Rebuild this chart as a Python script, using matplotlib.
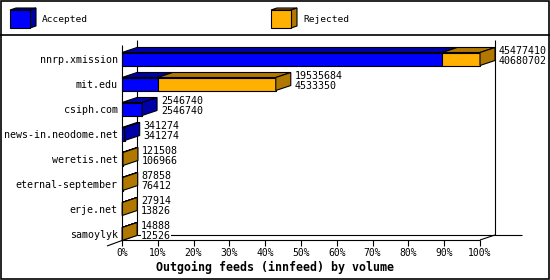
import numpy as np
import matplotlib
matplotlib.use("Agg")
import matplotlib.pyplot as plt
from matplotlib.patches import Polygon, Rectangle
from matplotlib import transforms

hosts = ["nnrp.xmission", "mit.edu", "csiph.com", "news-in.neodome.net",
         "weretis.net", "eternal-september", "erje.net", "samoylyk"]
total = [45477410, 19535684, 2546740, 341274, 121508, 87858, 27914, 14888]
accepted = [40680702, 4533350, 2546740, 341274, 106966, 76412, 13826, 12526]
xticks = list(range(0, 101, 10))
title = "Outgoing feeds (innfeed) by volume"

BLUE, DBLUE = "#0000ff", "#0000a8"
ORANGE, DORANGE = "#ffb000", "#b07800"
LW = 0.8

plt.rcParams['font.family'] = ['DejaVu Sans Mono', 'DejaVu Sans']

W, H = 550, 280
fig = plt.figure(figsize=(W / 100, H / 100), dpi=100)

# overlay in pixel units for frame, legend and title
ov = fig.add_axes([0, 0, 1, 1])
ov.set_xlim(0, W)
ov.set_ylim(H, 0)
ov.axis('off')
ov.add_patch(Rectangle((0.5, 0.5), W - 1.5, H - 1.5, fill=False, lw=1.2, ec='black'))
ov.plot([0, W], [35, 35], color='black', lw=1.2)


def cube(x, y, w, h, d, e, front, dark):
    ov.add_patch(Polygon([(x, y), (x + w, y), (x + w + d, y - e), (x + d, y - e)],
                         closed=True, fc=dark, ec='black', lw=LW))
    ov.add_patch(Polygon([(x + w, y), (x + w, y + h), (x + w + d, y + h - e), (x + w + d, y - e)],
                         closed=True, fc=dark, ec='black', lw=LW))
    ov.add_patch(Rectangle((x, y), w, h, fc=front, ec='black', lw=LW))


cube(10, 10, 20, 18, 6, 2, BLUE, DBLUE)
ov.text(42, 19.5, "Accepted", fontsize=6.8, va='center', ha='left')
cube(271, 10, 20, 18, 6, 2, ORANGE, DORANGE)
ov.text(303, 19.5, "Rejected", fontsize=6.8, va='center', ha='left')
ov.text(274.5, 267, title, fontsize=8.4, fontweight='bold', ha='center', va='center')

# chart axes: x in percent of the biggest feed, y in category index
x0px, x1px = 122, 480
ytop, ybot = 40, 240
ycat0, ystep = 59, 25
ax = fig.add_axes([x0px / W, 1 - ybot / H, (x1px - x0px) / W, (ybot - ytop) / H])
ax.patch.set_visible(False)
n = len(hosts)
ypos = np.arange(n)
ymax_d = (ybot - ycat0) / ystep
ymin_d = (ytop - ycat0) / ystep
ax.set_xlim(0, 100)
ax.set_ylim(ymax_d, ymin_d)
for s in ax.spines.values():
    s.set_visible(False)

pxx = 100 / (x1px - x0px)
pxy = 1 / ystep
dx, dy = 15 * pxx, 5 * pxy
bh = 13 * pxy

tot = np.array(total, dtype=float)
acc = np.array(accepted, dtype=float)
big = tot.max()
tot_p = tot / big * 100
acc_p = acc / big * 100
rej_p = tot_p - acc_p

kw = dict(color='black', lw=LW, clip_on=False, solid_capstyle='butt')
# back wall and floor
ax.plot([dx, dx], [ymin_d, ymax_d - dy], zorder=1, **kw)
ax.plot([100 + dx, 100 + dx], [ymin_d, ymax_d - dy], zorder=1, **kw)
ax.plot([dx, 100 + dx + 27 * pxx], [ymax_d - dy, ymax_d - dy], zorder=1, **kw)
ax.plot([-dx, dx], [ymax_d + 6 * pxy, ymax_d - dy], zorder=1, **kw)
ax.plot([100, 100 + dx], [ymax_d, ymax_d - dy], zorder=1, **kw)
# front axes
ax.plot([0, 0], [ymin_d + 5 * pxy, ymax_d], zorder=6, **kw)
ax.plot([0, 100], [ymax_d, ymax_d], zorder=6, **kw)

ax.barh(ypos, acc_p, height=bh, color=BLUE, edgecolor='black', linewidth=LW, zorder=3, clip_on=False)
ax.barh(ypos, rej_p, left=acc_p, height=bh, color=ORANGE, edgecolor='black', linewidth=LW, zorder=3,
        clip_on=False)

for i in range(n):
    top = ypos[i] - bh / 2
    bot = ypos[i] + bh / 2
    segs = [(0, acc_p[i], DBLUE)]
    if rej_p[i] > 0:
        segs.append((acc_p[i], tot_p[i], DORANGE))
    for a, b, c in segs:
        ax.add_patch(Polygon([(a, top), (b, top), (b + dx, top - dy), (a + dx, top - dy)],
                             closed=True, fc=c, ec='black', lw=LW, zorder=3, clip_on=False))
    side = segs[-1][2]
    e = tot_p[i]
    ax.add_patch(Polygon([(e, top), (e, bot), (e + dx, bot - dy), (e + dx, top - dy)],
                         closed=True, fc=side, ec='black', lw=LW, zorder=3, clip_on=False))
    tr = transforms.offset_copy(ax.transData, fig, x=19, y=0, units='dots')
    ax.text(e, ypos[i] - 3 * pxy, f"{total[i]}\n{accepted[i]}", transform=tr,
            fontsize=7.2, ha='left', va='center', linespacing=1.0,
            bbox=dict(fc='white', ec='none', pad=0), zorder=4, clip_on=False)

ax.set_xticks(xticks, [f"{t}%" for t in xticks])
ax.set_yticks(ypos, hosts)
ax.tick_params(axis='x', direction='out', length=4, width=LW,
               labelsize=7, pad=1.8, colors='black')
ax.tick_params(axis='y', length=0, pad=3, labelsize=7.2)

fig.savefig("out.png", dpi=100, facecolor='white')
